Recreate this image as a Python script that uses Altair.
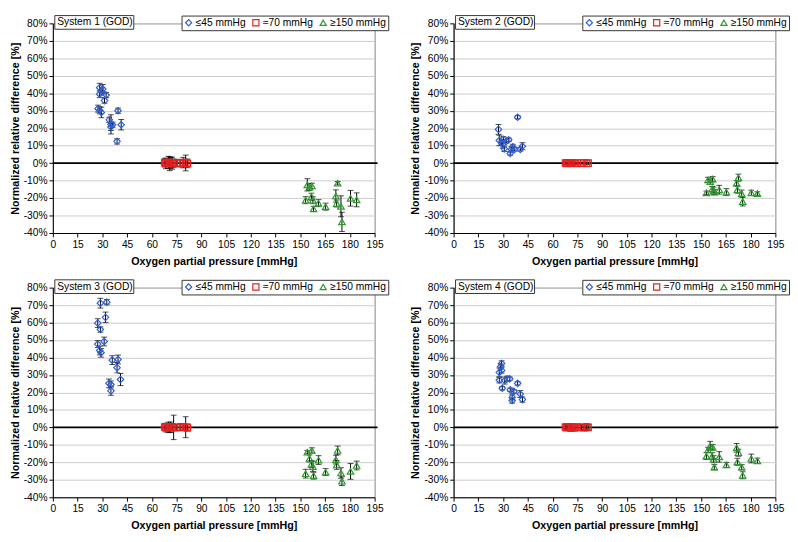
import altair as alt
import pandas as pd

GROUPS = ["≤45 mmHg", "≈70 mmHg", "≥150 mmHg"]
COLORS = ["#2f5fd6", "#e3211f", "#2f9a2f"]
SHAPES = ["diamond", "square", "triangle-up"]
SYSTEMS = ["System 1 (GOD)", "System 2 (GOD)", "System 3 (GOD)", "System 4 (GOD)"]
X_TICKS = list(range(0, 196, 15))
Y_TICKS = list(range(-40, 81, 10))
X_TITLE = "Oxygen partial pressure [mmHg]"
Y_TITLE = "Normalized relative difference  [%]"

# ---- System 1 ----
S1_LOW_X = [28.4, 30.3, 28.4, 29.7, 32.3, 31.3, 27.4, 28.4, 29.4, 34.2, 35.2, 35.2, 36.2, 39.5, 41.4, 38.9]
S1_LOW_Y = [43.2, 42.5, 39.5, 41.0, 39.0, 35.8, 31.2, 30.3, 29.0, 24.8, 22.2, 20.7, 22.0, 30.0, 22.0, 12.5]
S1_LOW_E = [2.5, 2.5, 2.0, 2.0, 1.5, 1.5, 2.0, 2.0, 3.0, 1.5, 5.5, 2.0, 1.5, 1.5, 3.0, 1.5]
MID_X = [67.8, 68.5, 69.2, 70.0, 70.8, 71.5, 72.3, 73.2, 75.0, 77.5, 79.0, 80.5, 81.5]
S1_MID_Y = [0.3, -0.2, 0.1, 0.4, -0.3, 0.2, 0.0, -0.1, 0.2, -0.2, 0.3, 0.1, -0.1]
S1_MID_E = [2.5, 3.0, 2.0, 3.5, 4.0, 3.0, 3.5, 2.5, 2.0, 2.0, 3.0, 4.5, 2.5]
HIGH_X = [153.2, 154.2, 155.5, 157.0, 156.7, 157.6, 158.0, 161.0, 165.3, 171.5, 172.6, 172.0, 174.6, 175.2, 180.4, 184.1]
S1_HIGH_Y = [-21.2, -12.4, -13.7, -13.0, -19.2, -21.2, -26.2, -22.9, -24.9, -18.8, -11.5, -23.1, -24.7, -33.6, -20.1, -21.0]
S1_HIGH_E = [2.0, 3.5, 2.0, 1.5, 2.0, 2.0, 1.5, 2.0, 2.0, 3.5, 1.0, 2.0, 6.0, 5.5, 4.5, 4.0]

# ---- System 2 ----
S2_LOW_X = [27.2, 27.7, 29.1, 29.7, 30.7, 30.1, 32.0, 33.4, 35.0, 34.3, 35.9, 36.9, 38.8, 40.4, 41.7]
S2_LOW_Y = [19.3, 13.0, 11.9, 10.6, 8.2, 13.7, 12.5, 13.4, 7.9, 5.6, 9.3, 7.9, 26.3, 7.9, 9.7]
S2_LOW_E = [2.8, 3.0, 1.5, 2.0, 1.5, 1.5, 1.0, 1.0, 1.5, 1.0, 1.5, 1.0, 1.0, 1.0, 2.0]
S2_MID_Y = [0.1, -0.1, 0.0, 0.1, -0.1, 0.0, 0.1, 0.0, -0.1, 0.1, 0.0, -0.1, 0.0]
S2_MID_E = [0.5, 0.4, 0.6, 0.5, 0.4, 0.5, 0.6, 0.4, 0.5, 0.5, 0.4, 0.6, 0.5]
S2_HIGH_Y = [-17.0, -9.6, -10.6, -9.1, -14.8, -15.7, -16.6, -15.2, -16.6, -11.5, -8.3, -15.2, -17.4, -22.0, -17.0, -17.4]
S2_HIGH_E = [1.0, 1.5, 1.5, 1.5, 1.5, 2.0, 1.5, 2.5, 2.0, 1.5, 2.0, 2.0, 2.0, 2.5, 1.5, 1.0]

# ---- System 3 ----
S3_LOW_X = [28.8, 32.7, 27.2, 28.8, 31.9, 27.2, 31.1, 28.4, 29.2, 36.0, 39.5, 38.9, 34.0, 35.2, 35.2, 41.0]
S3_LOW_Y = [71.1, 71.7, 59.7, 56.0, 63.0, 47.7, 49.2, 44.0, 42.7, 38.5, 38.9, 34.2, 25.2, 24.6, 20.9, 27.4]
S3_LOW_E = [2.8, 1.5, 2.5, 1.5, 3.0, 2.0, 2.5, 2.5, 2.5, 2.5, 2.5, 3.0, 2.5, 2.0, 2.5, 3.5]
S3_MID_Y = [0.2, -0.1, 0.3, 0.0, -0.2, 0.1, 0.2, 0.0, -0.1, 0.2, 0.0, 0.1, -0.1]
S3_MID_E = [2.0, 2.5, 1.5, 3.0, 2.5, 3.0, 2.0, 7.0, 1.5, 2.0, 1.5, 6.0, 2.0]
S3_HIGH_Y = [-26.5, -14.2, -17.8, -13.2, -21.0, -22.4, -27.6, -18.7, -25.6, -18.4, -13.2, -21.5, -26.1, -30.8, -25.2, -21.8]
S3_HIGH_E = [2.5, 1.0, 2.0, 1.5, 2.0, 3.0, 2.0, 2.5, 2.0, 2.5, 2.5, 2.5, 3.0, 2.5, 4.5, 2.5]

# ---- System 4 ----
S4_LOW_X = [29.1, 28.5, 27.7, 29.1, 27.7, 29.5, 31.0, 32.4, 34.0, 34.3, 36.5, 35.5, 35.5, 38.8, 40.4, 41.7]
S4_LOW_Y = [36.6, 34.8, 31.5, 32.6, 27.0, 22.4, 26.8, 27.8, 27.8, 21.5, 20.6, 17.2, 15.4, 25.2, 19.1, 15.9]
S4_LOW_E = [1.5, 1.5, 2.5, 1.5, 1.5, 1.0, 2.0, 1.5, 1.0, 1.0, 1.0, 1.5, 1.5, 1.0, 2.0, 1.5]
S4_MID_Y = [0.2, -0.1, 0.1, 0.3, -0.2, 0.0, 0.1, -0.1, 0.2, 0.0, -0.1, 0.1, 0.0]
S4_MID_E = [1.5, 1.5, 1.0, 1.5, 2.0, 1.5, 1.5, 2.0, 1.0, 1.5, 1.0, 2.0, 1.5]
S4_HIGH_Y = [-16.4, -12.9, -10.5, -11.4, -16.5, -18.2, -22.8, -16.9, -21.5, -11.7, -14.5, -19.7, -22.8, -27.4, -17.8, -19.1]
S4_HIGH_E = [2.0, 1.5, 2.5, 1.5, 2.0, 2.0, 1.5, 3.0, 1.5, 2.5, 2.0, 2.0, 1.5, 2.0, 2.5, 1.5]

FONT = "Liberation Sans"
W = 330
H = 215


def xenc(field):
    return alt.X(field, type="quantitative",
                 scale=alt.Scale(domain=[0, 195], nice=False, zero=False),
                 axis=alt.Axis(values=X_TICKS, title=X_TITLE, grid=False, labelOverlap=False,
                               labelFlush=False, labelPadding=3, titlePadding=6))


def yenc(field):
    return alt.Y(field, type="quantitative",
                 scale=alt.Scale(domain=[-40, 80], nice=False, zero=False),
                 axis=alt.Axis(values=Y_TICKS, title=Y_TITLE, grid=True, labelOverlap=False,
                               labelFlush=False, labelExpr="datum.value + '%'"))


def panel(name, low, mid, high):
    rows = []
    for g, (xs, ys, es) in zip(GROUPS, (low, mid, high)):
        for x, y, e in zip(xs, ys, es):
            rows.append({"group": g, "x": x, "y": y, "lo": y - e, "hi": y + e})
    df = pd.DataFrame(rows)
    base = alt.Chart(df)

    legend = alt.Legend(orient="none", legendX=W - 198, legendY=-8, direction="horizontal",
                        title=None, fillColor="white", strokeColor="#333333", padding=2,
                        labelFontSize=10.5, labelFont=FONT, symbolSize=40, symbolStrokeWidth=1.2,
                        columnPadding=4, labelOffset=2, cornerRadius=0)
    color = alt.Color("group:N", scale=alt.Scale(domain=GROUPS, range=COLORS), legend=legend)
    shape = alt.Shape("group:N", scale=alt.Scale(domain=GROUPS, range=SHAPES), legend=legend)

    zero = alt.Chart(pd.DataFrame({"y": [0]})).mark_rule(color="black", strokeWidth=2).encode(
        y=yenc("y"), x=alt.value(0), x2=alt.value(W + 3))
    bars = base.mark_rule(color="black", strokeWidth=1).encode(x=xenc("x"), y=yenc("lo"), y2="hi:Q")
    cap_lo = base.mark_tick(color="black", orient="horizontal", size=6, thickness=1).encode(
        x=xenc("x"), y=yenc("lo"))
    cap_hi = base.mark_tick(color="black", orient="horizontal", size=6, thickness=1).encode(
        x=xenc("x"), y=yenc("hi"))
    points = base.mark_point(filled=False, size=44, strokeWidth=1.2, opacity=1).encode(
        x=xenc("x"), y=yenc("y"), color=color, shape=shape)
    tdf = pd.DataFrame({"t": [name]})
    box = alt.Chart(tdf).mark_rect(fill="white", stroke="#333333", strokeWidth=1).encode(
        x=alt.value(2), x2=alt.value(83), y=alt.value(-8), y2=alt.value(6))
    label = alt.Chart(tdf).mark_text(align="left", baseline="middle", fontSize=10.5, font=FONT,
                                     color="black").encode(
        x=alt.value(4.5), y=alt.value(-1), text="t:N")
    return alt.layer(zero, bars, cap_lo, cap_hi, points, box, label).properties(width=W, height=H)


p1 = panel(SYSTEMS[0], (S1_LOW_X, S1_LOW_Y, S1_LOW_E), (MID_X, S1_MID_Y, S1_MID_E), (HIGH_X, S1_HIGH_Y, S1_HIGH_E))
p2 = panel(SYSTEMS[1], (S2_LOW_X, S2_LOW_Y, S2_LOW_E), (MID_X, S2_MID_Y, S2_MID_E), (HIGH_X, S2_HIGH_Y, S2_HIGH_E))
p3 = panel(SYSTEMS[2], (S3_LOW_X, S3_LOW_Y, S3_LOW_E), (MID_X, S3_MID_Y, S3_MID_E), (HIGH_X, S3_HIGH_Y, S3_HIGH_E))
p4 = panel(SYSTEMS[3], (S4_LOW_X, S4_LOW_Y, S4_LOW_E), (MID_X, S4_MID_Y, S4_MID_E), (HIGH_X, S4_HIGH_Y, S4_HIGH_E))

chart = alt.concat(p1, p2, p3, p4, columns=2, spacing=alt.RowColnumber(row=12, column=20)).resolve_legend(
    color="independent", shape="independent").properties(padding=0).configure(
    font=FONT).configure_view(stroke="#808080", strokeWidth=1).configure_axis(
    labelFont=FONT, titleFont=FONT, labelFontSize=10.5, titleFontSize=11, titleFontWeight="bold",
    labelColor="black", titleColor="black", domainColor="black", tickColor="black",
    tickSize=4, labelPadding=2, titlePadding=3, gridColor="#cccccc", gridWidth=1)

chart.save("out.html", embed_options={"renderer": "svg", "actions": False})
